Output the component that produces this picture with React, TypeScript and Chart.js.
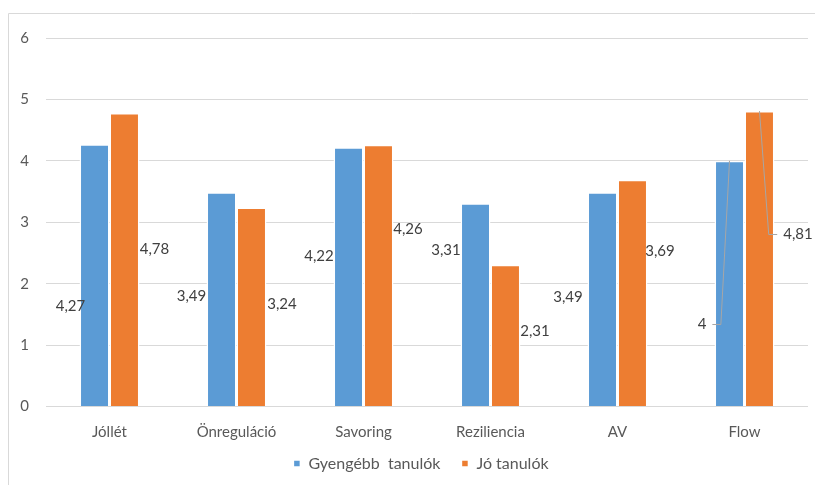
import { useEffect, useRef } from "react";
import { Chart, registerables } from "chart.js";

Chart.register(...registerables);

const categories = ["Jóllét", "Önreguláció", "Savoring", "Reziliencia", "AV", "Flow"];
const seriesNames = ["Gyengébb  tanulók", "Jó tanulók"];
const weakerStudents = [4.27, 3.49, 4.22, 3.31, 3.49, 4];
const goodStudents = [4.78, 3.24, 4.26, 2.31, 3.69, 4.81];
const yTickValues = [0, 1, 2, 3, 4, 5, 6];

// Where each value label sits: [horizontal shift from the bar centre in px, height on the value axis]
const weakerLabelPlacement = [[-24, 1.64], [-30, 1.8], [-29.5, 2.44], [-29.5, 2.55], [-34.5, 1.78], [-27.5, 1.34]];
const goodLabelPlacement = [[30, 2.56], [30.5, 1.66], [29.5, 2.88], [29.5, 1.23], [27.5, 2.53], [38.5, 2.81]];
// Labels that are tied back to their bar with a leader line
const weakerLeader = [false, false, false, false, false, true];
const goodLeader = [false, false, false, false, false, true];

const BLUE = "#5B9BD5";
const ORANGE = "#ED7D31";
const FONT = "Lato, 'Liberation Sans', sans-serif";

const formatValue = (v: number) => String(v).replace(".", ",");

const framePlugin = {
  id: "frame",
  beforeDraw(chart: any) {
    const { ctx, width, height } = chart;
    ctx.save();
    ctx.strokeStyle = "#D9D9D9";
    ctx.lineWidth = 1;
    ctx.beginPath();
    ctx.moveTo(8.5, height);
    ctx.lineTo(8.5, 13.5);
    ctx.lineTo(width, 13.5);
    ctx.stroke();
    ctx.restore();
  },
};

// Nudge the legend box so it sits under the plot centre, just below the category labels
const legendPlacementPlugin = {
  id: "legendPlacement",
  afterLayout(chart: any) {
    const lg = chart.legend;
    if (!lg) return;
    const dx = 17;
    const dy = -17;
    lg.left += dx;
    lg.right += dx;
    lg.top += dy;
    lg.bottom += dy;
  },
};

const valueLabelPlugin = {
  id: "valueLabels",
  afterDatasetsDraw(chart: any) {
    const { ctx } = chart;
    const yScale = chart.scales.y;
    const placements = [weakerLabelPlacement, goodLabelPlacement];
    const leaders = [weakerLeader, goodLeader];
    ctx.save();
    ctx.font = `15px ${FONT}`;
    ctx.textAlign = "center";
    ctx.textBaseline = "middle";
    chart.data.datasets.forEach((ds: any, di: number) => {
      const meta = chart.getDatasetMeta(di);
      meta.data.forEach((bar: any, i: number) => {
        const [dx, yv] = placements[di][i];
        const text = formatValue(ds.data[i]);
        const tx = bar.x + dx;
        const ty = yScale.getPixelForValue(yv);
        ctx.fillStyle = "#404040";
        ctx.fillText(text, tx, ty);
        if (leaders[di][i]) {
          const half = ctx.measureText(text).width / 2;
          const side = dx < 0 ? 1 : -1;
          const sx = tx + side * (half + 6);
          const kx = sx + side * 8.5;
          ctx.strokeStyle = "#A6A6A6";
          ctx.lineWidth = 1;
          ctx.beginPath();
          ctx.moveTo(sx, Math.round(ty) + 0.5);
          ctx.lineTo(kx, Math.round(ty) + 0.5);
          ctx.lineTo(bar.x, bar.y);
          ctx.stroke();
        }
      });
    });
    ctx.restore();
  },
};

export default function App() {
  const canvasRef = useRef<HTMLCanvasElement | null>(null);

  useEffect(() => {
    if (!canvasRef.current) return;
    const chart = new Chart(canvasRef.current, {
      type: "bar",
      data: {
        labels: categories,
        datasets: [
          {
            label: seriesNames[0],
            data: weakerStudents,
            backgroundColor: BLUE,
            borderColor: "#FFFFFF",
            borderWidth: 1.5,
            borderSkipped: "start",
          },
          {
            label: seriesNames[1],
            data: goodStudents,
            backgroundColor: ORANGE,
            borderColor: "#FFFFFF",
            borderWidth: 1.5,
            borderSkipped: "start",
          },
        ],
      },
      options: {
        responsive: false,
        animation: false,
        layout: { padding: { left: 0, right: 7, top: 38, bottom: -13.5 } },
        datasets: { bar: { categoryPercentage: 0.472, barPercentage: 1 } },
        scales: {
          x: {
            grid: { display: false },
            border: { display: false },
            ticks: { color: "#595959", font: { family: FONT, size: 15 }, padding: 8.5 },
            afterFit(scale: any) {
              scale.height = 45;
            },
          },
          y: {
            min: 0,
            max: 6,
            afterBuildTicks(scale: any) {
              scale.ticks = yTickValues.map((v) => ({ value: v }));
            },
            grid: { color: "#D9D9D9", lineWidth: 1, drawTicks: false },
            border: { display: false },
            ticks: { color: "#595959", font: { family: FONT, size: 15 }, padding: 17 },
            afterFit(scale: any) {
              scale.width = 46;
            },
          },
        },
        plugins: {
          legend: {
            position: "bottom",
            labels: {
              color: "#595959",
              font: { family: FONT, size: 16 },
              usePointStyle: true,
              pointStyle: "rect",
              boxWidth: 7,
              boxHeight: 7,
              padding: 21,
            },
          },
          tooltip: { enabled: false },
          title: { display: false },
        },
      },
      plugins: [framePlugin, legendPlacementPlugin, valueLabelPlugin],
    });
    return () => chart.destroy();
  }, []);

  return (
    <div style={{ position: "absolute", left: 0, top: 0, width: 815, height: 485, background: "#FFFFFF" }}>
      <canvas ref={canvasRef} width={815} height={485} />
    </div>
  );
}
